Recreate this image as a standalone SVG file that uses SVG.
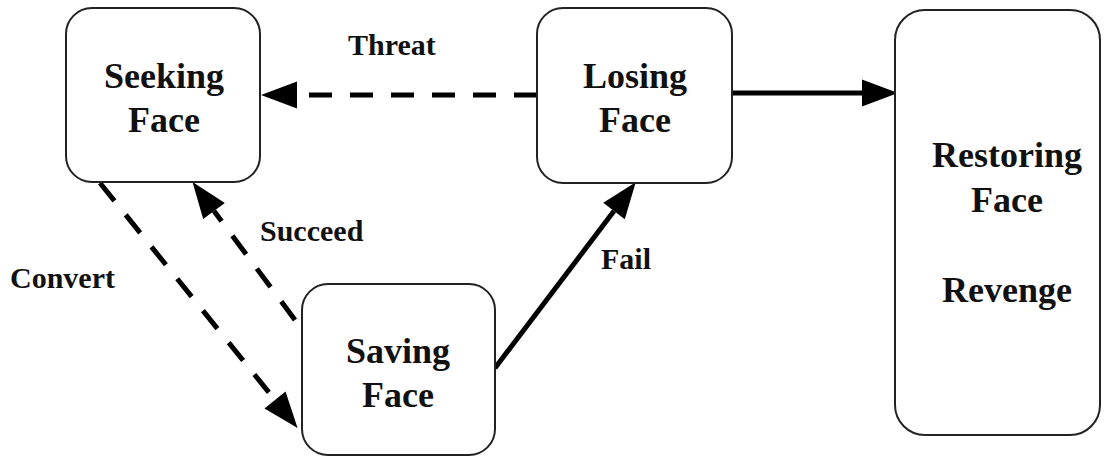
<svg xmlns="http://www.w3.org/2000/svg" width="1110" height="457" viewBox="0 0 1110 457">
<style>
.box{fill:#fff;stroke:#222;stroke-width:2}
.nt{font-family:"Liberation Serif","Times New Roman",serif;font-weight:bold;font-size:36px;fill:#111;text-anchor:middle}
.lb{font-family:"Liberation Serif","Times New Roman",serif;font-weight:bold;font-size:30px;fill:#111}
.solid{stroke:#000;stroke-width:5;fill:none}
.dash{stroke:#000;stroke-width:5;fill:none;stroke-dasharray:23 18}
</style>
<defs>
<marker id="ah" markerUnits="userSpaceOnUse" markerWidth="40" markerHeight="30" refX="0" refY="13.5" orient="auto" overflow="visible">
<path d="M0,0 L36,13.5 L0,27 Z" fill="#000"/>
</marker>
</defs>
<rect width="1110" height="457" fill="#fff"/>
<g id="connectors">
<line class="dash" x1="537" y1="95" x2="297" y2="95" marker-end="url(#ah)"/>
<line class="solid" x1="732" y1="93" x2="862" y2="93" marker-end="url(#ah)"/>
<line class="solid" x1="495" y1="368" x2="614" y2="211" marker-end="url(#ah)"/>
<line class="dash" x1="100" y1="183" x2="275" y2="400" marker-end="url(#ah)"/>
<line class="dash" x1="295" y1="320" x2="214" y2="211" marker-end="url(#ah)"/>
</g>
<g id="labels">
<text class="lb" x="348" y="55">Threat</text>
<text class="lb" x="260" y="241">Succeed</text>
<text class="lb" x="10" y="288">Convert</text>
<text class="lb" x="601" y="269">Fail</text>
</g>
<g id="seeking">
<rect class="box" x="66" y="8" width="194" height="174" rx="26"/>
<text class="nt" x="164" y="88">Seeking</text>
<text class="nt" x="164" y="132">Face</text>
</g>
<g id="losing">
<rect class="box" x="537" y="8" width="195" height="175" rx="26"/>
<text class="nt" x="635" y="88">Losing</text>
<text class="nt" x="635" y="132">Face</text>
</g>
<g id="saving">
<rect class="box" x="302" y="284" width="193" height="171" rx="26"/>
<text class="nt" x="398" y="363">Saving</text>
<text class="nt" x="398" y="407">Face</text>
</g>
<g id="restoring">
<rect class="box" x="895" y="10" width="205" height="425" rx="30"/>
<text class="nt" x="1007" y="167">Restoring</text>
<text class="nt" x="1007" y="212">Face</text>
<text class="nt" x="1007" y="302">Revenge</text>
</g>
</svg>
